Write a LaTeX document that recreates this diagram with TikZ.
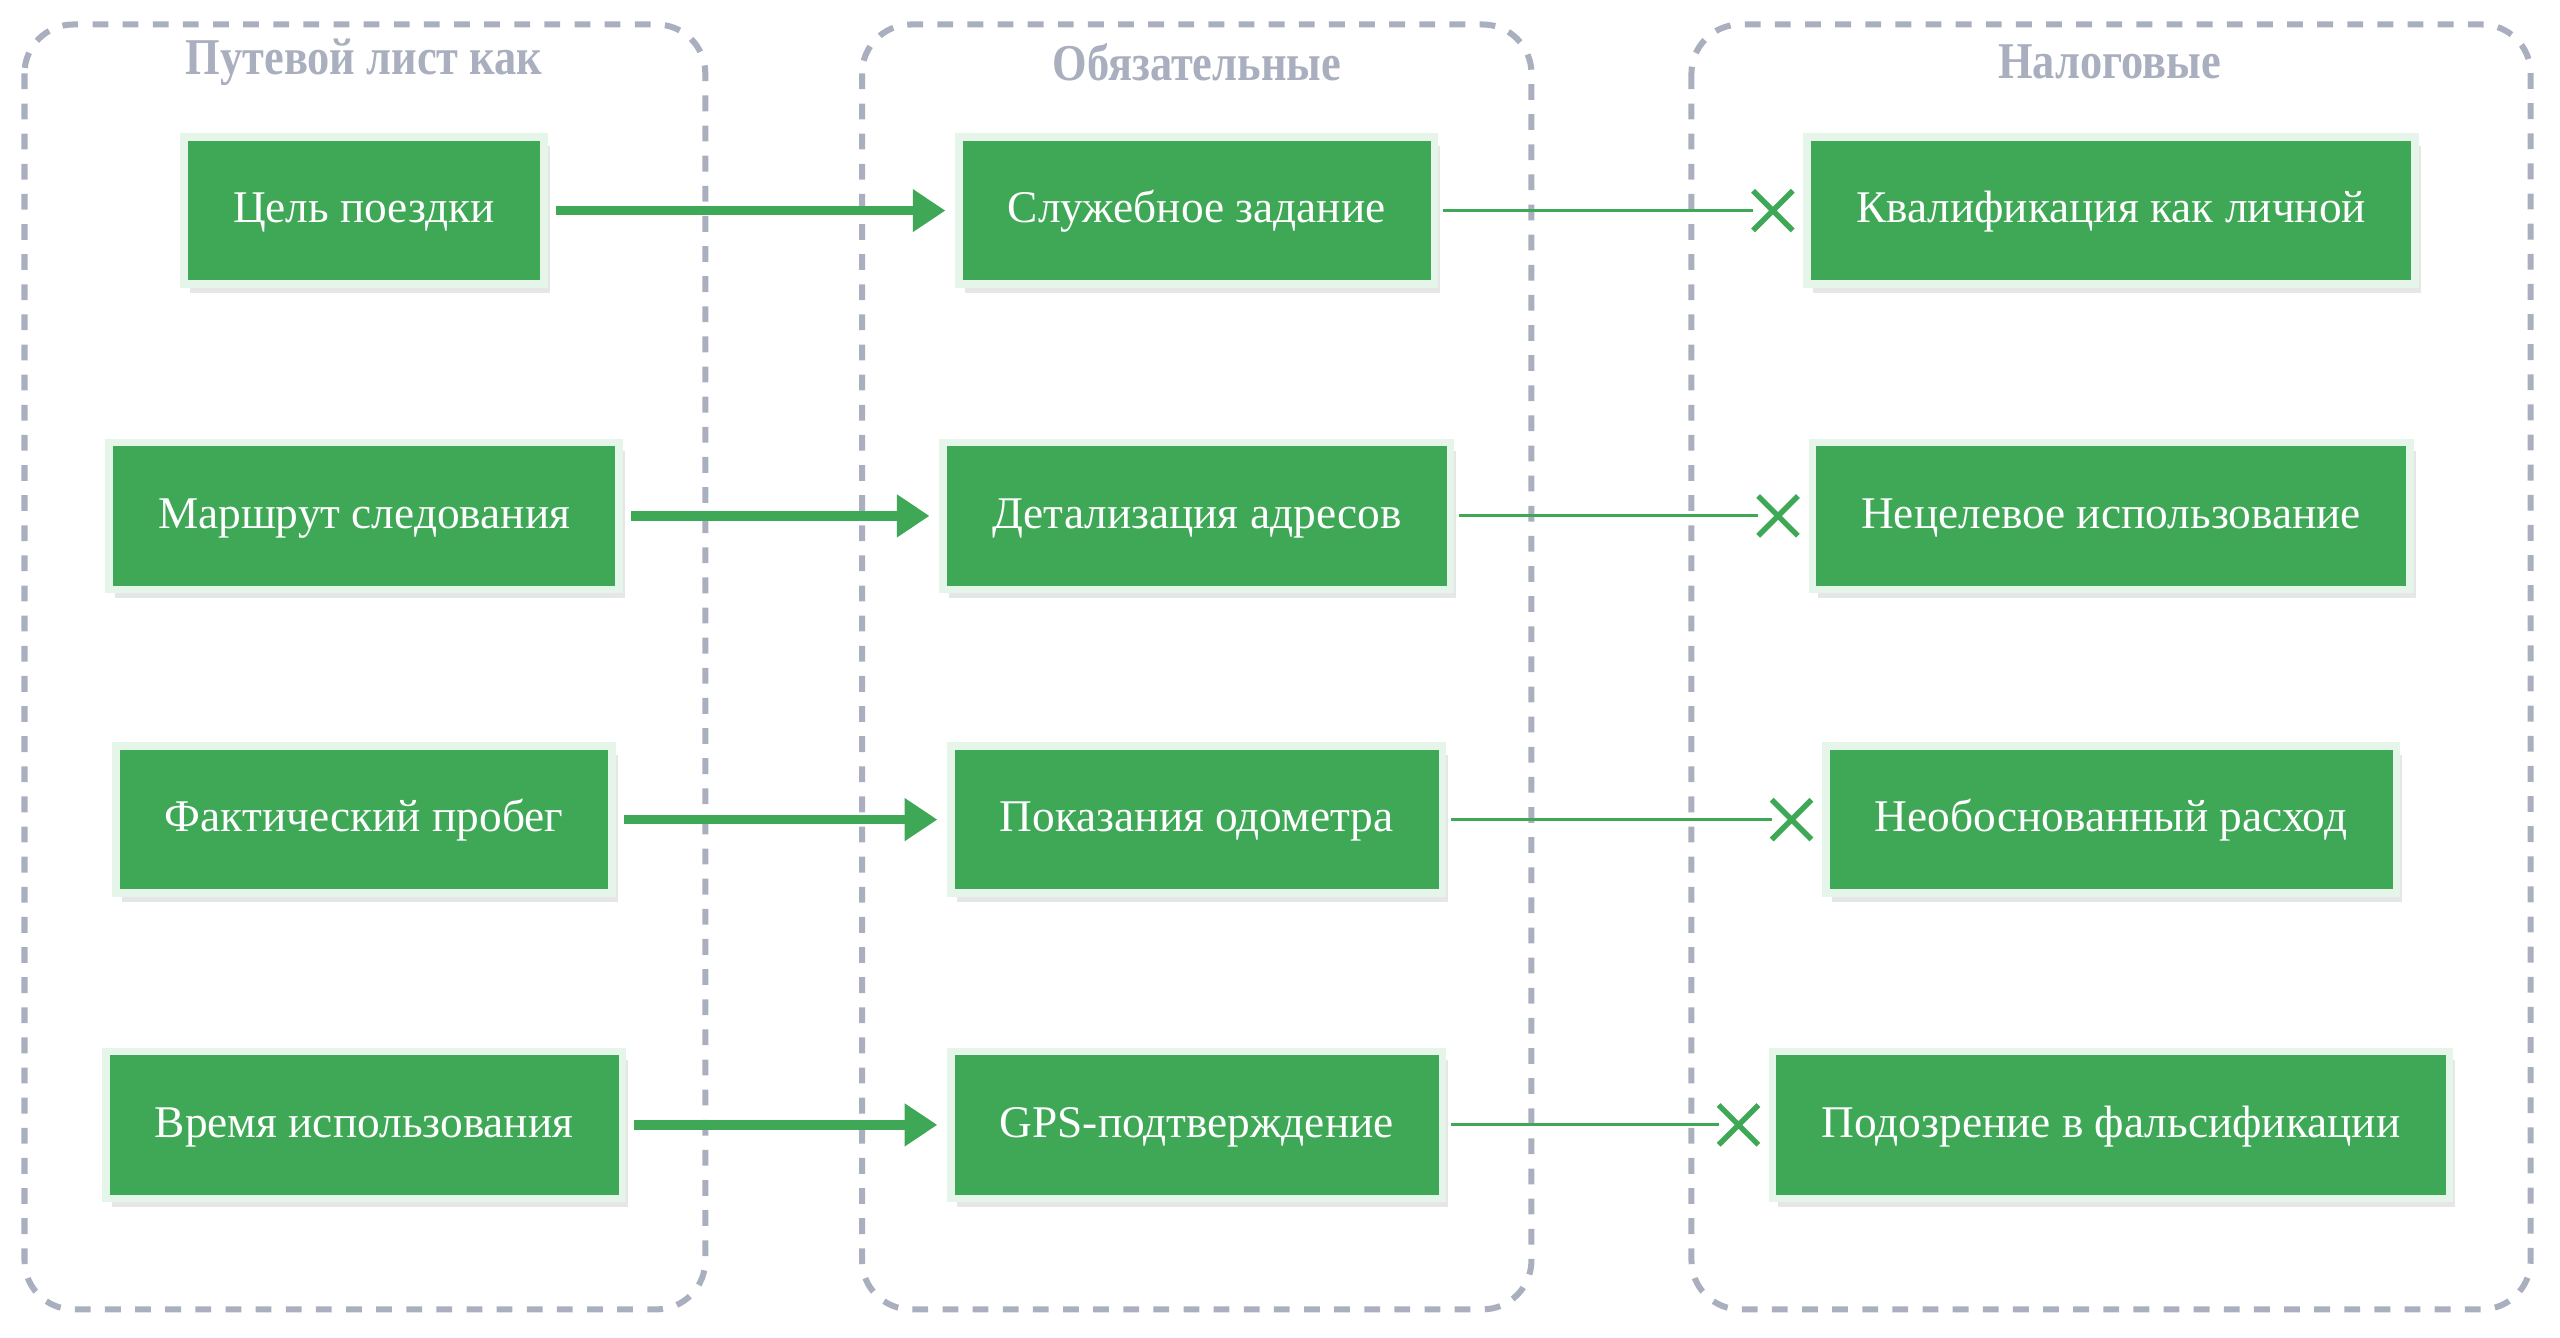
\documentclass[tikz,border=0pt]{standalone}
\usepackage{fontspec}
\setmainfont{Liberation Serif}
\newfontfamily\headfont{Liberation Serif}[FakeStretch=0.86]
\usepackage{tikz}
\usetikzlibrary{arrows.meta,shapes.misc,shadows,positioning}

\definecolor{boxgreen}{HTML}{3FA856}
\definecolor{rimgreen}{HTML}{E6F5EA}
\definecolor{framegray}{HTML}{A9AFBE}

\begin{document}
\begin{tikzpicture}[
    group/.style={draw=framegray,line width=2.1pt,dash pattern=on 5.5pt off 5pt,rounded corners=0.6cm},
    head/.style={text=framegray,font=\headfont\bfseries\fontsize{18}{21}\selectfont},
    item/.style={rectangle,fill=boxgreen,draw=rimgreen,line width=2.6pt,text=white,
      minimum height=1.8cm,inner xsep=0.6cm,text height=0.85em,text depth=0pt,
      font=\fontsize{15.8}{19}\selectfont,
      drop shadow={shadow xshift=2pt,shadow yshift=-3pt,opacity=0.2}},
    xmark/.style={cross out,draw=boxgreen,line width=1.9pt,minimum size=0.42cm,inner sep=0pt},
    link/.style={boxgreen,line width=3.4pt,shorten <=0.1cm,shorten >=0.12cm,
      -{Triangle[width=0.5cm,length=0.4cm]}},
    veto/.style={boxgreen,line width=1.1pt,shorten <=0.06cm}
  ]
  \useasboundingbox (0,0) rectangle (31.36,-16.38);

  % columns
  \draw[group] (0.3,-0.3) rectangle (8.64,-16.04);
  \draw[group] (10.56,-0.3) rectangle (18.76,-16.04);
  \draw[group] (20.72,-0.3) rectangle (31.0,-16.04);
  \node[head](h1) at (4.46,-0.76){Путевой лист как};
  \node[head](h2) at (14.66,-0.76){Обязательные};
  \node[head](h3) at (25.84,-0.76){Налоговые};

  \node[item](a1) at (4.46,-2.58){Цель поездки};
  \node[item](a2) at (4.46,-6.32){Маршрут следования};
  \node[item](a3) at (4.46,-10.04){Фактический пробег};
  \node[item](a4) at (4.46,-13.78){Время использования};

  \node[item](b1) at (14.66,-2.58){Служебное задание};
  \node[item](b2) at (14.66,-6.32){Детализация адресов};
  \node[item](b3) at (14.66,-10.04){Показания одометра};
  \node[item](b4) at (14.66,-13.78){GPS-подтверждение};

  \node[item](c1) at (25.86,-2.58){Квалификация как личной};
  \node[item](c2) at (25.86,-6.32){Нецелевое использование};
  \node[item](c3) at (25.86,-10.04){Необоснованный расход};
  \node[item](c4) at (25.86,-13.78){Подозрение в фальсификации};

  \node[xmark,left=0.13cm of c1](x1){};
  \node[xmark,left=0.13cm of c2](x2){};
  \node[xmark,left=0.13cm of c3](x3){};
  \node[xmark,left=0.13cm of c4](x4){};

  \path
    (a1) edge[link] (b1)
    (a2) edge[link] (b2)
    (a3) edge[link] (b3)
    (a4) edge[link] (b4)
    (b1.east) edge[veto] (x1.west)
    (b2.east) edge[veto] (x2.west)
    (b3.east) edge[veto] (x3.west)
    (b4.east) edge[veto] (x4.west)
  ;
\end{tikzpicture}
\end{document}
